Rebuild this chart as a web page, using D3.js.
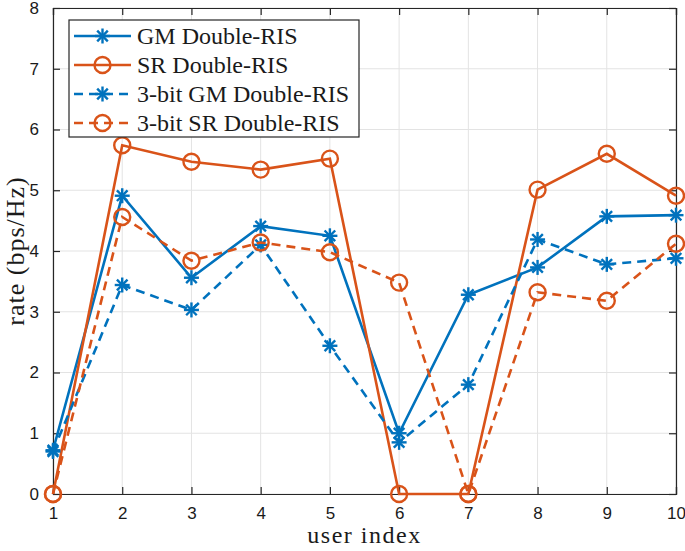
<!DOCTYPE html>
<html><head><meta charset="utf-8">
<script src="https://cdn.jsdelivr.net/npm/d3@7"></script>
<style>body{margin:0;background:#fff}</style>
</head><body>
<svg id="c" width="685" height="551"></svg>
<script>
const users = [1,2,3,4,5,6,7,8,9,10];
const gmDouble = [0.72,4.91,3.56,4.41,4.25,1.0,3.28,3.73,4.57,4.59];
const srDouble = [0,5.74,5.47,5.34,5.52,0,0,5.01,5.60,4.91];
const gm3bit = [0.70,3.44,3.03,4.10,2.44,0.85,1.80,4.19,3.78,3.88];
const sr3bit = [0,4.56,3.84,4.14,3.98,3.48,0,3.32,3.18,4.12];
const seriesNames = ["GM Double-RIS","SR Double-RIS","3-bit GM Double-RIS","3-bit SR Double-RIS"];
const xTicks = [1,2,3,4,5,6,7,8,9,10];
const yTicks = [0,1,2,3,4,5,6,7,8];

const blue = "#0072BD", orange = "#D95319";
const series = [
  {name:seriesNames[0], values:gmDouble, color:blue, dash:null, marker:"star"},
  {name:seriesNames[1], values:srDouble, color:orange, dash:null, marker:"circle"},
  {name:seriesNames[2], values:gm3bit, color:blue, dash:"9,6", marker:"star"},
  {name:seriesNames[3], values:sr3bit, color:orange, dash:"9,6", marker:"circle"}
];

const svg = d3.select("#c");
const L=53, R=676, T=8, B=494;
const x = d3.scaleLinear().domain([1,10]).range([L,R]);
const y = d3.scaleLinear().domain([0,8]).range([B,T]);

// grid
const g = svg.append("g");
g.selectAll(".gx").data(xTicks).join("line")
  .attr("x1",d=>x(d)).attr("x2",d=>x(d)).attr("y1",T).attr("y2",B)
  .attr("stroke","#e3e3e3").attr("stroke-width",1);
g.selectAll(".gy").data(yTicks).join("line")
  .attr("y1",d=>y(d)).attr("y2",d=>y(d)).attr("x1",L).attr("x2",R)
  .attr("stroke","#e3e3e3").attr("stroke-width",1);

// axes
const axCol = "#262626";
const xb = svg.append("g").attr("transform",`translate(0,${B})`)
  .call(d3.axisBottom(x).tickValues(xTicks).tickSize(-7).tickPadding(13).tickFormat(d3.format("d")));
const xt = svg.append("g").attr("transform",`translate(0,${T})`)
  .call(d3.axisTop(x).tickValues(xTicks).tickSize(-7).tickFormat(""));
const yl = svg.append("g").attr("transform",`translate(${L},0)`)
  .call(d3.axisLeft(y).tickValues(yTicks).tickSize(-7).tickPadding(14).tickFormat(d3.format("d")));
const yr = svg.append("g").attr("transform",`translate(${R},0)`)
  .call(d3.axisRight(y).tickValues(yTicks).tickSize(-7).tickFormat(""));
[xb,xt,yl,yr].forEach(a=>{
  a.select(".domain").attr("stroke",axCol).attr("stroke-width",1.2);
  a.selectAll(".tick line").attr("stroke",axCol).attr("stroke-width",1.2);
  a.selectAll("text").attr("fill","#1a1a1a").attr("font-family","'Liberation Sans', Arial, sans-serif").attr("font-size",17);
});

// lines
const line = d3.line().x((d,i)=>x(users[i])).y(d=>y(d));
function star(sel, cx, cy, col){
  const r=7.5;
  const gg = sel.append("g").attr("stroke",col).attr("stroke-width",2.4);
  [0,45,90,135].forEach(a=>{
    const rad=a*Math.PI/180;
    gg.append("line").attr("x1",cx-r*Math.cos(rad)).attr("y1",cy-r*Math.sin(rad))
      .attr("x2",cx+r*Math.cos(rad)).attr("y2",cy+r*Math.sin(rad));
  });
}
function circ(sel,cx,cy,col){
  sel.append("circle").attr("cx",cx).attr("cy",cy).attr("r",8).attr("fill","none")
    .attr("stroke",col).attr("stroke-width",2.4);
}
const plot = svg.append("g");
series.forEach(s=>{
  plot.append("path").datum(s.values).attr("d",line).attr("fill","none")
    .attr("stroke",s.color).attr("stroke-width",2.6).attr("stroke-dasharray",s.dash);
  s.values.forEach((v,i)=>{
    if(s.marker==="star") star(plot,x(users[i]),y(v),s.color);
    else circ(plot,x(users[i]),y(v),s.color);
  });
});

// legend
const lg = svg.append("g");
lg.append("rect").attr("x",69).attr("y",20).attr("width",290).attr("height",117)
  .attr("fill","#fff").attr("stroke",axCol).attr("stroke-width",1.2);
series.forEach((s,i)=>{
  const yy = 36 + i*29;
  lg.append("line").attr("x1",74).attr("x2",131).attr("y1",yy).attr("y2",yy)
    .attr("stroke",s.color).attr("stroke-width",2.6).attr("stroke-dasharray",s.dash?"9,6":null);
  if(s.marker==="star") star(lg,102.5,yy,s.color); else circ(lg,102.5,yy,s.color);
  lg.append("text").attr("x",137).attr("y",yy+8).text(s.name)
    .attr("font-family","'Liberation Serif','Times New Roman',serif").attr("font-size",24).attr("fill","#1a1a1a");
});

// axis labels
svg.append("text").attr("x",(L+R)/2).attr("y",543).attr("text-anchor","middle")
  .attr("font-family","'Liberation Serif','Times New Roman',serif").attr("font-size",24)
  .attr("letter-spacing",1.5).attr("fill","#1a1a1a").text("user index");
svg.append("text").attr("transform",`translate(24,${(T+B)/2}) rotate(-90)`).attr("text-anchor","middle")
  .attr("font-family","'Liberation Serif','Times New Roman',serif").attr("font-size",26)
  .attr("letter-spacing",1).attr("fill","#1a1a1a").text("rate (bps/Hz)");
</script>
</body></html>
